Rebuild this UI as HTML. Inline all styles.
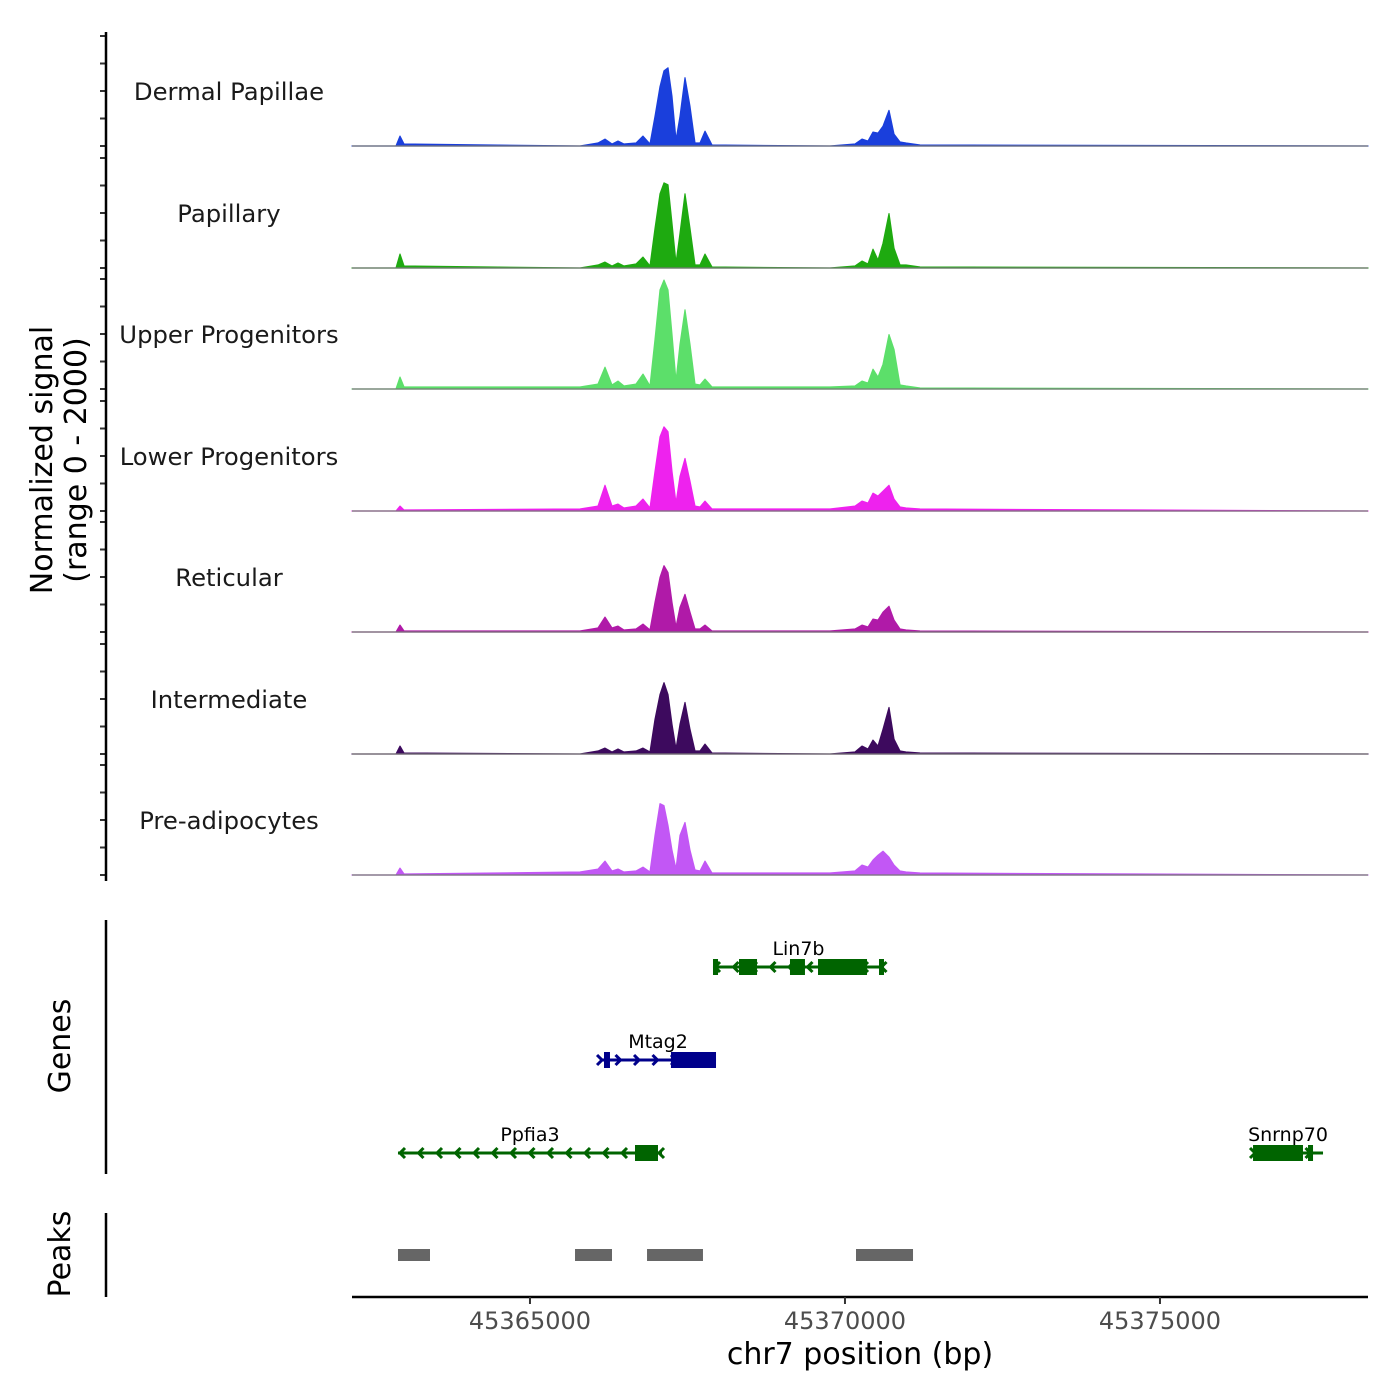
<!DOCTYPE html>
<html><head><meta charset="utf-8"><style>
html,body{margin:0;padding:0;background:#fff;}
svg{display:block;font-family:"DejaVu Sans","Liberation Sans",sans-serif;}
</style></head><body>
<svg id="chart" width="1400" height="1400" viewBox="0 0 1400 1400" xmlns="http://www.w3.org/2000/svg">
<rect width="1400" height="1400" fill="#fff"/>
<g id="tracks"></g>
<g id="genes"></g>
<g id="peaks"></g>
<g id="axes"></g>
<text x="52" y="460" font-size="30" text-anchor="middle" transform="rotate(-90 52 460)" fill="#000">Normalized signal</text>
<text x="86" y="460" font-size="30" text-anchor="middle" transform="rotate(-90 86 460)" fill="#000">(range 0 - 2000)</text>
<text x="70" y="1046" font-size="30" text-anchor="middle" transform="rotate(-90 70 1046)" fill="#000">Genes</text>
<text x="70" y="1254" font-size="30" text-anchor="middle" transform="rotate(-90 70 1254)" fill="#000">Peaks</text>
<text x="860" y="1364" font-size="30" text-anchor="middle" fill="#000">chr7 position (bp)</text>
</svg>
<script>
const NS='http://www.w3.org/2000/svg';
const positions=[45362175,45362873,45362937,45363000,45365794,45366080,45366191,45366302,45366397,45366492,45366683,45366794,45366905,45366985,45367064,45367127,45367191,45367254,45367318,45367381,45367461,45367540,45367619,45367699,45367778,45367889,45369762,45370159,45370270,45370365,45370445,45370524,45370604,45370699,45370778,45370873,45370969,45371191,45378302];
const trackNames=["Dermal Papillae","Papillary","Upper Progenitors","Lower Progenitors","Reticular","Intermediate","Pre-adipocytes"];
const trackColors=["#1a3fdc","#1eaa10","#5cdf6a","#ee22ee","#b01aa8","#3d0a5e","#c257f5"];
const sigDermal=[0,0,180,36,0,54,126,36,90,36,54,180,36,540,1080,1368,1422,900,108,540,1242,720,54,54,270,18,0,36,126,90,252,234,360,648,216,72,54,18,0];
const sigPapillary=[0,0,252,36,0,54,108,36,90,36,72,198,36,720,1350,1548,1512,810,90,630,1350,720,54,54,252,18,0,36,126,72,342,144,450,990,360,54,54,18,0];
const sigUpper=[0,0,216,36,36,90,396,72,144,54,90,270,54,900,1800,1980,1800,990,144,810,1440,810,90,72,180,36,36,54,144,108,360,216,450,990,720,72,54,18,0];
const sigLower=[0,0,90,18,36,90,468,90,126,54,90,216,54,720,1350,1530,1440,720,144,630,954,540,90,72,180,36,36,90,180,144,324,270,360,468,216,72,54,36,0];
const sigReticular=[0,0,126,18,18,72,270,72,108,36,54,144,36,540,990,1206,1080,540,90,450,684,360,54,54,126,18,18,54,126,90,234,216,360,468,216,54,36,18,0];
const sigIntermediate=[0,0,144,18,0,54,108,36,90,36,54,108,36,630,1080,1296,1080,540,90,540,936,450,54,54,180,18,0,36,144,90,252,144,450,846,270,54,36,18,0];
const sigPreadipo=[0,0,126,18,54,108,252,72,108,54,72,144,54,720,1296,1260,900,450,108,720,954,450,90,72,252,36,36,72,180,144,270,360,432,324,180,72,54,36,0];
const signals=[sigDermal,sigPapillary,sigUpper,sigLower,sigReticular,sigIntermediate,sigPreadipo];
const xTicks=[45365000,45370000,45375000];
const xTickLabels=["45365000","45370000","45375000"];
const geneNames=["Lin7b","Mtag2","Ppfia3","Snrnp70"];
const geneStarts=[45367905,45366112,45362905,45376477];
const geneEnds=[45370619,45367953,45367096,45377588];
const geneStrands=[-1,1,-1,1];
const geneRows=[0,1,2,2];
const geneExons=[[[45367905,45367985],[45368318,45368604],[45369127,45369365],[45369572,45370350],[45370540,45370619]],[[45366175,45366270],[45367238,45367953]],[[45366667,45367032]],[[45376477,45377270],[45377350,45377429]]];
const peakStarts=[45362905,45365715,45366858,45370175];
const peakEnds=[45363413,45366302,45367746,45371080];
const X0=352,X1=1368,BP0=45362175,BP1=45378302;
const x=bp=>X0+(bp-BP0)/(BP1-BP0)*(X1-X0);
const baselines=[146,268,389,511,632,754,875];
const yScale=v=>v/2000*110;
function mk(tag,attrs,parent){const e=document.createElementNS(NS,tag);for(const k in attrs)e.setAttribute(k,attrs[k]);parent.appendChild(e);return e;}
const tracks=document.getElementById('tracks');
const axes=document.getElementById('axes');
signals.forEach((sig,i)=>{
  const b=baselines[i];
  let d='M'+x(positions[0])+','+b;
  sig.forEach((v,j)=>{d+=' L'+x(positions[j]).toFixed(1)+','+(b-yScale(v)).toFixed(1);});
  d+=' L'+x(positions[positions.length-1])+','+b+' Z';
  const p=mk('path',{d:d,fill:trackColors[i],stroke:trackColors[i],'stroke-width':1.2,'stroke-linejoin':'round'},tracks);
  
  
  const l=mk('line',{x1:X0,x2:X1,y1:b,y2:b,stroke:'#777','stroke-width':1.2},tracks);
  
  
  const t=mk('text',{x:229,y:b-46,'font-size':24.3,'text-anchor':'middle',fill:'#1a1a1a'},tracks);
  t.textContent=trackNames[i];
  
  
  for(let k=0;k<=4;k++){
    const yy=b-yScale(k*500);
    const tk=mk('line',{x1:100,x2:106,y1:yy,y2:yy,stroke:'#333','stroke-width':2},axes);
    
    
  }
});
mk('line',{x1:106,x2:106,y1:32,y2:881,stroke:'#000','stroke-width':2.5},axes);
mk('line',{x1:106,x2:106,y1:920,y2:1174,stroke:'#000','stroke-width':2.5},axes);
mk('line',{x1:106,x2:106,y1:1213,y2:1297,stroke:'#000','stroke-width':2.5},axes);
mk('line',{x1:X0,x2:X1,y1:1297,y2:1297,stroke:'#000','stroke-width':2.5},axes);
xTicks.forEach((v,i)=>{
  const tk=mk('line',{x1:x(v),x2:x(v),y1:1297,y2:1304,stroke:'#333','stroke-width':2},axes);
  
  
  const t=mk('text',{x:x(v),y:1329,'font-size':24,'text-anchor':'middle',fill:'#4d4d4d'},axes);
  t.textContent=xTickLabels[i];
  
  
});
const genes=document.getElementById('genes');
const rowY=[967,1060,1153];
geneNames.forEach((n,i)=>{
  const y=rowY[geneRows[i]];
  const col=n==='Mtag2'?'#00008b':'#006400';
  const g=mk('g',{},genes);
  
  
  const xs=x(geneStarts[i]),xe=x(geneEnds[i]);
  mk('line',{x1:xs,x2:xe,y1:y,y2:y,stroke:col,'stroke-width':3},g);
  for(let ax=xs+2;ax<xe-2;ax+=18.5){
    const dir=geneStrands[i];
    mk('polyline',{points:(ax-5*dir)+','+(y-5)+' '+ax+','+y+' '+(ax-5*dir)+','+(y+5),fill:'none',stroke:col,'stroke-width':3},g);
  }
  geneExons[i].forEach(e=>{
    mk('rect',{x:x(e[0]),y:y-8,width:Math.max(5,x(e[1])-x(e[0])),height:16,fill:col},g);
  });
  const t=mk('text',{x:(xs+xe)/2,y:y-12,'font-size':19,'text-anchor':'middle',fill:'#000'},g);
  t.textContent=n;
});
const peaks=document.getElementById('peaks');
peakStarts.forEach((s,i)=>{
  const r=mk('rect',{x:x(s),y:1249,width:x(peakEnds[i])-x(s),height:12,fill:'#666'},peaks);
  
  
});
</script>
</body></html>
